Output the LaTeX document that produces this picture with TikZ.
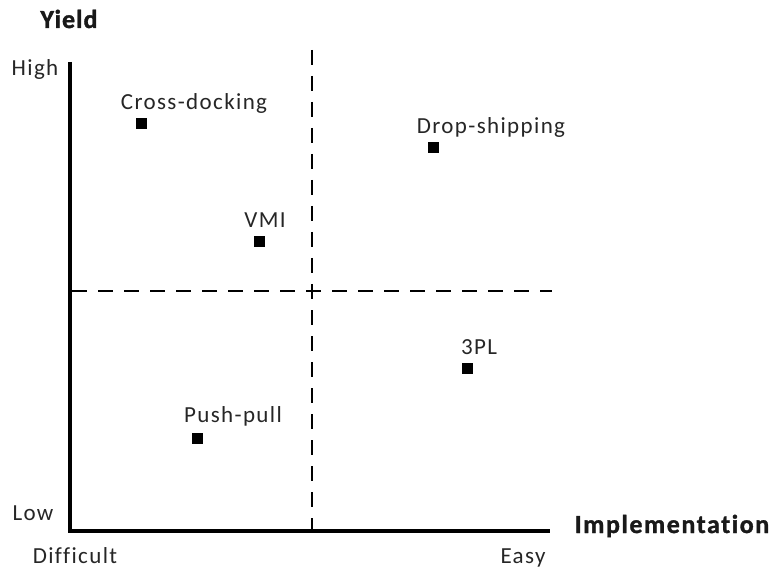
\documentclass[tikz,border=0pt]{standalone}
\usepackage{fontspec}
\setmainfont{Carlito}[Ligatures=NoCommon]
\newfontfamily\labelfont[LetterSpace=6,Ligatures=NoCommon]{Carlito}
\newfontfamily\titlefont[LetterSpace=6,Ligatures=NoCommon,
  BoldFeatures={FakeBold=1.2}]{Carlito}
\newfontfamily\yieldfont[LetterSpace=4,Ligatures=NoCommon,
  BoldFeatures={FakeBold=1.4}]{Carlito}
\begin{document}
\begin{tikzpicture}[x=1pt,y=-1pt,
  axis/.style={line width=4.5pt},
  divider/.style={line width=1.6pt, dash pattern=on 15pt off 11pt},
  item/.style={fill=black, minimum size=11pt, inner sep=0pt},
  tag/.style={text=black!85, anchor=base, font=\labelfont\fontsize{23}{26}\selectfont, inner sep=0pt},
  axistitle/.style={text=black!90, anchor=base, font=\titlefont\bfseries\fontsize{26}{30}\selectfont, inner sep=0pt}]
\useasboundingbox (0,0) rectangle (776,569);
% axes
\coordinate (origin) at (70,531);
\coordinate (ytop) at (70,62);
\coordinate (xend) at (550,531);
\draw[axis] (ytop) -- (origin |- 0,533.2) ;
\draw[axis] (68,531) -- (xend);
% quadrant dividers
\coordinate (vtop) at (312,50);
\coordinate (vbot) at (312,531);
\coordinate (hl) at (72,291);
\coordinate (hr) at (552,291);
\draw[divider] (vtop) -- (vbot);
\draw[divider] (hl) -- (hr);
% axis labels
\node[axistitle, font=\yieldfont\bfseries\fontsize{26}{30}\selectfont] (yield) at (69,28) {Yield};
\node[axistitle] (impl) at (672,533) {Implementation};
\node[tag] (high) at (35,76) {High};
\node[tag] (low) at (33,520) {Low};
\node[tag] (difficult) at (75,563) {Difficult};
\node[tag] (easy) at (523,563) {Easy};
% strategies
\node[item] (cd) at (141,124) {};
\node[tag] (cdl) at (194,110) {Cross-docking};
\node[item] (ds) at (433,148) {};
\node[tag] (dsl) at (491,134) {Drop-shipping};
\node[item] (vmi) at (259,242) {};
\node[tag] (vmil) at (265,228) {VMI};
\node[item] (tpl) at (467,368) {};
\node[tag] (tpll) at (479,354) {3PL};
\node[item] (pp) at (197,438) {};
\node[tag] (ppl) at (233,422) {Push-pull};
\end{tikzpicture}
\end{document}
